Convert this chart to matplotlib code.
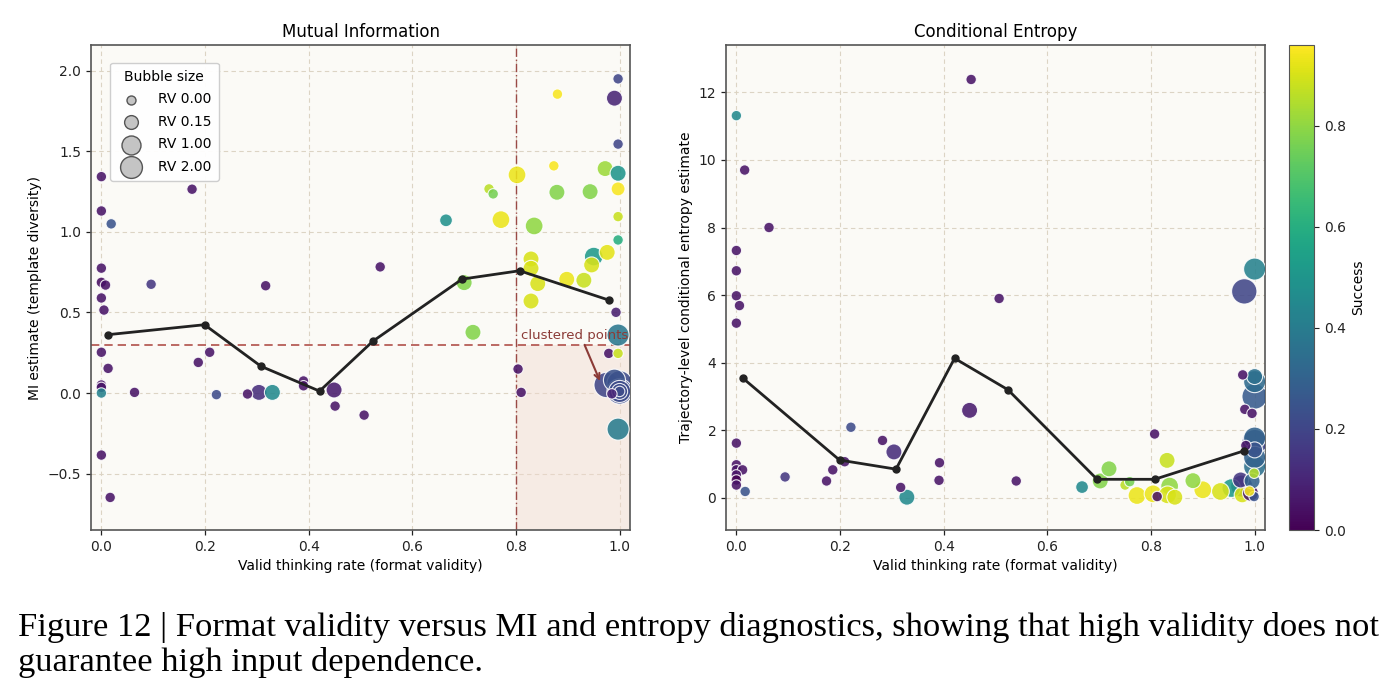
import numpy as np
import matplotlib
matplotlib.use("Agg")
import matplotlib.pyplot as plt
from matplotlib.colors import Normalize

# ---------------- data ----------------
# Left panel: Mutual information
mi_x = [0.0, 0.0, 0.019, 0.0, 0.0, 0.008, 0.0, 0.005, 0.175, 0.096, 0.317, 0.538,
        0.0, 0.013, 0.0, 0.0, 0.0, 0.0, 0.017, 0.064, 0.187, 0.209, 0.222, 0.282,
        0.304, 0.33, 0.39, 0.39, 0.449, 0.451, 0.507, 0.804, 0.81, 0.993, 0.979, 0.997,
        0.997, 0.997, 0.997, 0.99, 0.88, 0.997, 0.873, 0.802, 0.972, 0.997, 0.997, 0.748,
        0.756, 0.879, 0.943, 0.997, 0.771, 0.665, 0.835, 0.997, 0.976, 0.95, 0.946, 0.829,
        0.829, 0.898, 0.931, 0.842, 0.70, 0.829, 0.717,
        0.975, 0.99, 1.0, 1.0, 1.0, 1.0, 1.0, 0.985]
mi_y = [1.343, 1.13, 1.05, 0.775, 0.687, 0.67, 0.59, 0.515, 1.265, 0.675, 0.666, 0.783,
        0.253, 0.153, 0.05, 0.035, 0.0, -0.385, -0.648, 0.004, 0.19, 0.253, -0.01, -0.006,
        0.004, 0.004, 0.075, 0.045, 0.019, -0.081, -0.137, 0.149, 0.004, 0.501, 0.246, 0.246,
        -0.224, 0.36, 1.95, 1.83, 1.855, 1.545, 1.41, 1.354, 1.393, 1.364, 1.267, 1.267,
        1.236, 1.246, 1.25, 1.095, 1.076, 1.072, 1.037, 0.95, 0.873, 0.847, 0.795, 0.832,
        0.774, 0.706, 0.70, 0.679, 0.685, 0.571, 0.377,
        0.05, 0.08, 0.06, 0.01, 0.01, 0.01, 0.01, -0.005]
mi_success = [0.05, 0.05, 0.25, 0.05, 0.03, 0.05, 0.05, 0.05, 0.05, 0.15, 0.05, 0.05,
              0.05, 0.05, 0.05, 0.05, 0.42, 0.05, 0.05, 0.05, 0.05, 0.05, 0.22, 0.05,
              0.12, 0.45, 0.05, 0.05, 0.07, 0.05, 0.05, 0.05, 0.05, 0.08, 0.05, 0.88,
              0.40, 0.38, 0.20, 0.10, 0.95, 0.20, 0.95, 0.93, 0.82, 0.50, 0.95, 0.86,
              0.76, 0.78, 0.78, 0.88, 0.93, 0.48, 0.80, 0.60, 0.92, 0.52, 0.90, 0.90,
              0.90, 0.93, 0.88, 0.90, 0.78, 0.90, 0.78,
              0.20, 0.24, 0.22, 0.22, 0.22, 0.22, 0.22, 0.10]
mi_rv = [0, 0, 0, 0, 0, 0, 0, 0, 0, 0, 0, 0,
         0, 0, 0, 0, 0, 0, 0, 0, 0, 0, 0, 0,
         0.15, 0.15, 0, 0, 0.15, 0, 0, 0, 0, 0, 0, 0,
         1.0, 1.0, 0, 0.15, 0, 0, 0, 0.3, 0.15, 0.15, 0.05, 0,
         0, 0.15, 0.15, 0, 0.3, 0.02, 0.3, 0, 0.15, 0.4, 0.15, 0.15,
         0.15, 0.15, 0.15, 0.15, 0.15, 0.15, 0.15,
         2.0, 1.0, 2.0, 2.0, 1.0, 0.15, 0, 0]

# Right panel: conditional entropy
ce_x = [0.0, 0.453, 0.016, 0.063, 0.0, 0.0, 0.0, 0.006, 0.0, 0.0, 0.0, 0.0,
        0.012, 0.0, 0.0, 0.0, 0.017, 0.094, 0.221, 0.282, 0.304, 0.209, 0.186, 0.174,
        0.317, 0.329, 0.392, 0.391, 0.45, 0.507, 0.54, 0.807, 0.667, 0.702, 0.719, 0.75,
        0.759, 0.773, 0.804, 0.812, 0.831, 0.836, 0.832, 0.846, 0.881, 0.9, 0.934, 0.955,
        0.976, 0.973, 0.992, 0.999, 0.999, 1.0, 1.0, 1.0, 1.0, 0.983, 0.977, 1.0,
        1.0, 1.0, 0.981, 0.995, 1.0, 0.98, 0.99, 0.975, 1.0, 0.995]
ce_y = [11.31, 12.38, 9.7, 8.0, 7.32, 6.72, 5.98, 5.69, 5.17, 1.62, 0.98, 0.83,
        0.83, 0.68, 0.53, 0.38, 0.19, 0.62, 2.09, 1.7, 1.36, 1.07, 0.83, 0.5,
        0.31, 0.02, 1.04, 0.52, 2.59, 5.9, 0.5, 1.89, 0.32, 0.5, 0.86, 0.38,
        0.48, 0.07, 0.12, 0.04, 1.11, 0.35, 0.09, 0.02, 0.51, 0.24, 0.19, 0.29,
        0.09, 0.53, 0.14, 0.04, 0.73, 0.93, 1.42, 1.65, 1.77, 1.55, 3.64, 3.59,
        3.44, 3.0, 2.62, 2.5, 6.77, 6.11, 0.2, 0.35, 1.2, 0.5]
ce_success = [0.45, 0.05, 0.05, 0.05, 0.05, 0.05, 0.05, 0.05, 0.05, 0.05, 0.05, 0.05,
              0.05, 0.05, 0.0, 0.05, 0.25, 0.15, 0.22, 0.05, 0.12, 0.05, 0.05, 0.05,
              0.05, 0.45, 0.05, 0.05, 0.07, 0.05, 0.05, 0.05, 0.45, 0.78, 0.78, 0.86,
              0.76, 0.93, 0.93, 0.05, 0.88, 0.80, 0.90, 0.90, 0.80, 0.93, 0.90, 0.52,
              0.90, 0.15, 0.05, 0.25, 0.85, 0.35, 0.25, 0.20, 0.30, 0.05, 0.05, 0.35,
              0.33, 0.27, 0.05, 0.05, 0.42, 0.20, 0.95, 0.15, 0.30, 0.30]
ce_rv = [0, 0, 0, 0, 0, 0, 0, 0, 0, 0, 0, 0,
         0, 0, 0, 0, 0, 0, 0, 0, 0.15, 0, 0, 0,
         0, 0.15, 0, 0, 0.15, 0, 0, 0, 0.02, 0.15, 0.15, 0,
         0, 0.3, 0.3, 0, 0.15, 0.3, 0.3, 0.15, 0.15, 0.3, 0.3, 0.4,
         0.15, 0.15, 0.15, 0, 0, 1.0, 0.15, 2.0, 1.0, 0, 0, 0.15,
         1.0, 2.0, 0, 0, 1.0, 2.0, 0, 1.0, 1.0, 0.15]

# Binned means
bin_x = [0.012, 0.199, 0.308, 0.421, 0.524, 0.696, 0.807, 0.979]
bin_mi = [0.362, 0.424, 0.166, 0.012, 0.322, 0.707, 0.759, 0.577]
bin_ce = [3.55, 1.12, 0.85, 4.13, 3.2, 0.55, 0.55, 1.39]

legend_rv = [0.0, 0.15, 1.0, 2.0]
mi_threshold = 0.3
valid_threshold = 0.8

caption_line1 = ("Figure 12 | Format validity versus MI and entropy diagnostics, "
                 "showing that high validity does not")
caption_line2 = "guarantee high input dependence."

# ---------------- style ----------------
W, H = 1392, 700
plt.rcParams['font.family'] = ['DejaVu Sans']
BG = '#fbfaf6'
GRID = '#dcd4c4'
SPINE = '#555555'
REF = '#b0504a'
cmap = plt.get_cmap('viridis')
norm = Normalize(vmin=0.0, vmax=0.96)


def rv_size(rv, scale=1.0):
    return scale * (42 + 145 * np.sqrt(np.asarray(rv, dtype=float)))


fig = plt.figure(figsize=(W / 100, H / 100), dpi=100)
ax1 = fig.add_axes([91 / W, 170 / H, 539 / W, 485 / H])
ax2 = fig.add_axes([726 / W, 170 / H, 539 / W, 485 / H])
cax = fig.add_axes([1289 / W, 170 / H, 25 / W, 485 / H])


def style_axes(ax):
    ax.set_facecolor(BG)
    ax.grid(True, linestyle=(0, (4, 3)), color=GRID, linewidth=0.8, zorder=0)
    ax.set_axisbelow(True)
    for sp in ax.spines.values():
        sp.set_color(SPINE)
        sp.set_linewidth(1.2)
    ax.tick_params(axis='both', labelsize=10, colors='#222222', length=3.5,
                   width=0.9, direction='out')
    ax.set_xticks(np.arange(0, 1.01, 0.2))
    ax.set_xlim(-0.02, 1.02)


def scatter_panel(ax, x, y, succ, rv):
    x = np.asarray(x); y = np.asarray(y); succ = np.asarray(succ)
    s = rv_size(rv, 1.35)
    order = np.argsort(-s, kind='stable')
    ax.scatter(x[order], y[order], s=s[order], c=succ[order], cmap=cmap, norm=norm,
               alpha=0.88, edgecolors='white', linewidths=0.8, zorder=3)


# ---- Left panel ----
style_axes(ax1)
ax1.set_ylim(-0.85, 2.16)
ax1.set_yticks([-0.5, 0.0, 0.5, 1.0, 1.5, 2.0])
ax1.fill_between([valid_threshold, 1.02], -0.85, mi_threshold, color='#f1d9cf',
                 alpha=0.45, zorder=1, linewidth=0)
ax1.axhline(mi_threshold, color=REF, linestyle=(0, (5, 3)), linewidth=1.2, zorder=2)
ax1.axvline(valid_threshold, color='#9a4a46', linestyle=(0, (6, 2, 1, 2)),
            linewidth=1.0, zorder=2)
scatter_panel(ax1, mi_x, mi_y, mi_success, mi_rv)
ax1.plot(bin_x, bin_mi, color='#222222', linewidth=2.0, marker='o', markersize=5,
         zorder=5)
ax1.annotate('clustered points', xy=(0.962, 0.075), xytext=(0.81, 0.335),
             fontsize=9.5, color='#8b3a36', zorder=6,
             arrowprops=dict(arrowstyle='->', color='#8b3a36', lw=1.5,
                             shrinkA=0, shrinkB=0,
                             relpos=(0.58, 0.0)))
ax1.set_title('Mutual Information', fontsize=12, pad=6)
ax1.set_xlabel('Valid thinking rate (format validity)', fontsize=10)
ax1.set_ylabel('MI estimate (template diversity)', fontsize=10)

handles = [ax1.scatter([], [], s=rv_size(v), color='#c4c4c4', edgecolors='#555555',
                       linewidths=1.0) for v in legend_rv]
labels = ['RV %.2f' % v for v in legend_rv]
leg = ax1.legend(handles, labels, title='Bubble size', loc='upper left',
                 bbox_to_anchor=(0.022, 0.978), fontsize=10, title_fontsize=10,
                 frameon=True, framealpha=0.95, edgecolor='#cccccc',
                 labelspacing=0.62, handletextpad=1.0, borderpad=0.5)
leg.set_zorder(10)

# ---- Right panel ----
style_axes(ax2)
ax2.set_ylim(-0.95, 13.4)
ax2.set_yticks(np.arange(0, 13, 2))
scatter_panel(ax2, ce_x, ce_y, ce_success, ce_rv)
ax2.plot(bin_x, bin_ce, color='#222222', linewidth=2.0, marker='o', markersize=5,
         zorder=5)
ax2.set_title('Conditional Entropy', fontsize=12, pad=6)
ax2.set_xlabel('Valid thinking rate (format validity)', fontsize=10)
ax2.set_ylabel('Trajectory-level conditional entropy estimate', fontsize=10)

# ---- Colorbar ----
sm = matplotlib.cm.ScalarMappable(norm=norm, cmap=cmap)
cb = fig.colorbar(sm, cax=cax)
cb.set_ticks([0.0, 0.2, 0.4, 0.6, 0.8])
cb.ax.tick_params(labelsize=10, length=3.5, colors='#222222')
cb.outline.set_edgecolor(SPINE)
cb.set_label('Success', fontsize=10)

# ---- Caption ----
cap_font = 'Liberation Serif'
t1 = fig.text(18 / W, 1 - 636 / H, caption_line1, fontfamily=cap_font, fontsize=22,
              va='baseline', ha='left', color='black')
t2 = fig.text(18 / W, 1 - 671 / H, caption_line2, fontfamily=cap_font, fontsize=22,
              va='baseline', ha='left', color='black')
fig.canvas.draw()
r = fig.canvas.get_renderer()
w = t1.get_window_extent(r).width
fs = 22 * (1355 / w)
t1.set_fontsize(fs)
t2.set_fontsize(fs)

fig.savefig('out.png', dpi=100, facecolor='white')
